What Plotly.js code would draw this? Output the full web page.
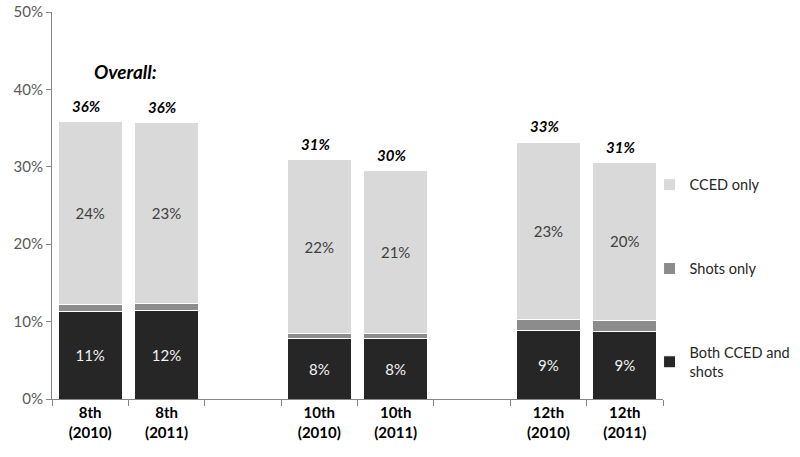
<!DOCTYPE html>
<html>
<head>
<meta charset="utf-8">
<script src="https://cdn.plot.ly/plotly-3.0.1.min.js"></script>
<style>html,body{margin:0;padding:0;background:#fff;}#chart{width:800px;height:457px;}</style>
</head>
<body>
<div id="chart"></div>
<script>
// Categories (gap categories are blank slots between grade groups)
const categories = ["8th<br>(2010)", "8th<br>(2011)", "\u200b", "10th<br>(2010)", "10th<br>(2011)", "\u200b\u200b", "12th<br>(2010)", "12th<br>(2011)"];
const barCategories = ["8th<br>(2010)", "8th<br>(2011)", "10th<br>(2010)", "10th<br>(2011)", "12th<br>(2010)", "12th<br>(2011)"];

// Series values (percent)
const bothValues  = [11.3, 11.4, 7.8, 7.8, 8.9, 8.7];
const shotsValues = [0.9, 0.9, 0.7, 0.7, 1.4, 1.5];
const ccedValues  = [23.6, 23.4, 22.4, 21.0, 22.9, 20.3];

// Printed labels
const bothLabels  = ["11%", "12%", "8%", "8%", "9%", "9%"];
const ccedLabels  = ["24%", "23%", "22%", "21%", "23%", "20%"];
const totalLabels = ["36%", "36%", "31%", "30%", "33%", "31%"];

const seriesNames = ["Both CCED and<br>shots", "Shots only", "CCED only"];
const yTickVals = [0, 10, 20, 30, 40, 50];
const yTickText = ["0%", "10%", "20%", "30%", "40%", "50%"];

const FONT = "Lato, 'Open Sans', sans-serif";

const traces = [
  {
    type: "bar", name: seriesNames[0], x: barCategories, y: bothValues,
    text: bothLabels, textposition: "inside", insidetextanchor: "middle",
    textfont: {color: "#f2f2f2", size: 15, family: FONT}, constraintext: "none",
    marker: {color: "#262626", line: {color: "#ffffff", width: 1}},
    legendgroup: "g1", legendrank: 3, hoverinfo: "none"
  },
  {
    type: "bar", name: seriesNames[1], x: barCategories, y: shotsValues,
    textposition: "none",
    marker: {color: "#8c8c8c", line: {color: "#ffffff", width: 1}},
    legendgroup: "g2", legendrank: 2, hoverinfo: "none"
  },
  {
    type: "bar", name: seriesNames[2], x: barCategories, y: ccedValues,
    text: ccedLabels, textposition: "inside", insidetextanchor: "middle",
    textfont: {color: "#404040", size: 15, family: FONT}, constraintext: "none",
    marker: {color: "#d9d9d9", line: {color: "#ffffff", width: 1}},
    legendgroup: "g3", legendrank: 1, hoverinfo: "none"
  }
];

const annotations = barCategories.map((c, i) => ({
  x: c, y: bothValues[i] + shotsValues[i] + ccedValues[i],
  xref: "x", yref: "y", text: totalLabels[i], showarrow: false,
  yanchor: "bottom", yshift: 5, xshift: -4,
  font: {family: FONT, size: 15, color: "#000", weight: "bold", style: "italic"}
}));
annotations.push({
  x: 0.5, y: 42.3, xref: "x", yref: "y", text: "Overall:", showarrow: false, xshift: -3,
  font: {family: FONT, size: 19, color: "#000", weight: "bold", style: "italic"}
});

const layout = {
  width: 800, height: 457,
  margin: {l: 52, r: 137, t: 12, b: 58, autoexpand: false},
  paper_bgcolor: "#fff", plot_bgcolor: "#fff",
  barmode: "stack", bargap: 0.16,
  font: {family: FONT, size: 15, color: "#404040"},
  showlegend: true,
  legend: {
    x: 0.978, xanchor: "left", y: 0.595, yanchor: "top",
    traceorder: "grouped", tracegroupgap: 62,
    font: {family: FONT, size: 14.5, color: "#262626"},
    bgcolor: "rgba(0,0,0,0)"
  },
  xaxis: {
    type: "category", categoryorder: "array", categoryarray: categories,
    range: [-0.5, 7.5], tickson: "boundaries", ticks: "outside", ticklen: 6,
    tickcolor: "#868686", showline: true, linecolor: "#868686", linewidth: 1,
    showgrid: false, zeroline: false, fixedrange: true,
    tickfont: {family: FONT, size: 15, color: "#000", weight: "bold"}
  },
  yaxis: {
    range: [0, 50], tickvals: yTickVals, ticktext: yTickText,
    ticks: "outside", ticklen: 5, tickcolor: "#868686",
    showline: true, linecolor: "#868686", linewidth: 1,
    showgrid: false, zeroline: false, fixedrange: true,
    tickfont: {family: FONT, size: 15, color: "#595959"}
  },
  annotations: annotations
};

Plotly.newPlot("chart", traces, layout, {displayModeBar: false, staticPlot: true});
</script>
</body>
</html>
